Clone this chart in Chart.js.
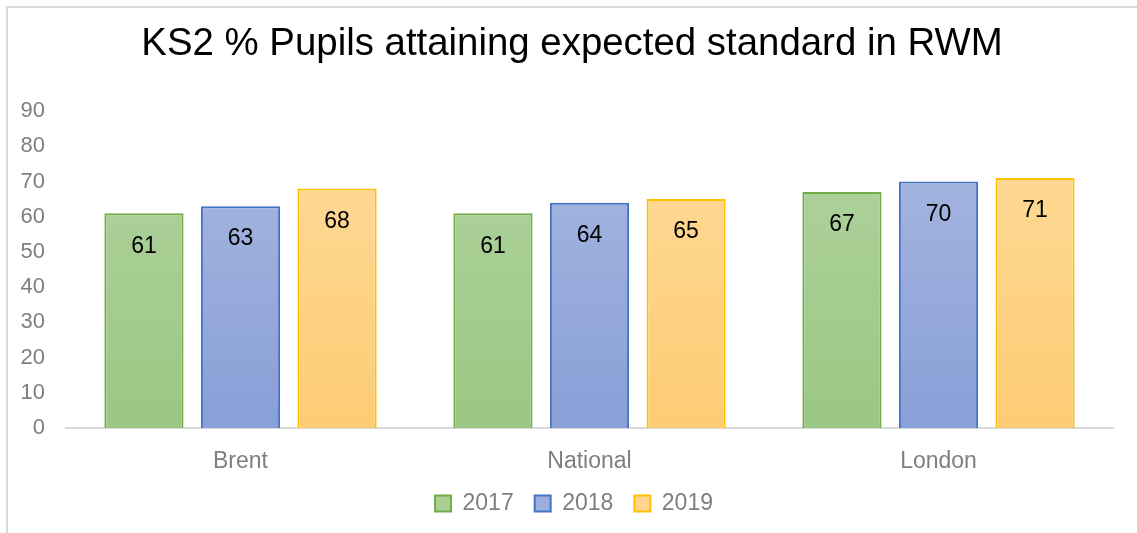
<!DOCTYPE html>
<html>
<head>
<meta charset="utf-8">
<script src="https://cdn.jsdelivr.net/npm/chart.js@4/dist/chart.umd.min.js"></script>
<style>
  html, body { margin: 0; padding: 0; background: #fff; }
  #wrap { position: relative; width: 1137px; height: 533px; }
  #frame { position: absolute; left: 6px; top: 6px; right: 0; bottom: 0; border-left: 2px solid #d9d9d9; border-top: 2px solid #d9d9d9; }
  canvas { position: absolute; left: 0; top: 0; }
</style>
</head>
<body>
<div id="wrap">
  <div id="frame"></div>
  <canvas id="chart" width="1137" height="533"></canvas>
</div>
<script>
// KS2 RWM chart data
const categories = ['Brent', 'National', 'London'];
const years = ['2017', '2018', '2019'];
const values2017 = [61, 61, 67];
const values2018 = [63, 64, 70];
const values2019 = [68, 65, 71];
const yTicks = [0, 10, 20, 30, 40, 50, 60, 70, 80, 90];

const FONT = '"Liberation Sans", Arial, sans-serif';

const seriesStyle = [
    { top: '#b2d3a1', bottom: '#9ac783', border: '#70ad47', legend: '#a9cf95' },
    { top: '#aab9e1', bottom: '#889fd7', border: '#4472c4', legend: '#9caedd' },
    { top: '#fedb9c', bottom: '#fdcc74', border: '#ffc000', legend: '#fed58b' }
];

function gradientFor(i) {
    return function(ctx) {
        const chart = ctx.chart;
        const area = chart.chartArea;
        if (!area) return seriesStyle[i].legend;
        const g = chart.ctx.createLinearGradient(0, area.top, 0, area.bottom);
        g.addColorStop(0, seriesStyle[i].top);
        g.addColorStop(1, seriesStyle[i].bottom);
        return g;
    };
}

// value labels inside the top of each bar
const barLabels = {
    id: 'barLabels',
    afterDatasetsDraw(chart) {
        const ctx = chart.ctx;
        ctx.save();
        ctx.font = '23px ' + FONT;
        ctx.fillStyle = '#000';
        ctx.textAlign = 'center';
        ctx.textBaseline = 'middle';
        chart.data.datasets.forEach((ds, di) => {
            chart.getDatasetMeta(di).data.forEach((bar, i) => {
                ctx.fillText(String(ds.data[i]), bar.x, bar.y + 33);
            });
        });
        ctx.restore();
    }
};

// title and legend sit a little right of the canvas centre, as in the original
const shiftBlocks = {
    id: 'shiftBlocks',
    afterLayout(chart) {
        if (chart.titleBlock) { chart.titleBlock.left += 15; chart.titleBlock.right += 15; }
        if (chart.legend) { chart.legend.left += 17; chart.legend.right += 17; }
    }
};

const allValues = [values2017, values2018, values2019];

new Chart(document.getElementById('chart'), {
    type: 'bar',
    data: {
        labels: categories,
        datasets: years.map((y, i) => ({
            label: y,
            data: allValues[i],
            backgroundColor: gradientFor(i),
            borderColor: seriesStyle[i].border,
            borderWidth: 2,
            borderSkipped: 'bottom',
            categoryPercentage: 0.83,
            barPercentage: 0.82
        }))
    },
    options: {
        responsive: false,
        animation: false,
        layout: { padding: { left: 1, right: 24, top: 6, bottom: 8 } },
        scales: {
            x: {
                grid: { display: false, drawTicks: false },
                border: { color: '#d9d9d9', width: 2 },
                ticks: { color: '#7f7f7f', padding: 20, font: { size: 23, family: FONT } },
                afterFit: axis => { axis.height = 43; }
            },
            y: {
                min: 0, max: 90,
                afterBuildTicks: axis => { axis.ticks = yTicks.map(v => ({ value: v })); },
                grid: { display: false, drawTicks: false },
                border: { display: false },
                ticks: { color: '#7f7f7f', padding: 21, font: { size: 22, family: FONT } },
                afterFit: axis => { axis.width = 65; }
            }
        },
        plugins: {
            title: {
                display: true,
                text: 'KS2 % Pupils attaining expected standard in RWM',
                color: '#000',
                font: { size: 38.4, weight: 'normal', family: FONT },
                padding: { top: 15, bottom: 44 }
            },
            legend: {
                position: 'bottom',
                labels: {
                    color: '#7f7f7f',
                    boxWidth: 16, boxHeight: 16,
                    padding: 21,
                    font: { size: 23, family: FONT },
                    generateLabels: chart => chart.data.datasets.map((ds, i) => ({
                        text: ds.label,
                        fillStyle: seriesStyle[i].legend,
                        strokeStyle: seriesStyle[i].border,
                        lineWidth: 2,
                        fontColor: '#7f7f7f',
                        datasetIndex: i
                    }))
                }
            },
            tooltip: { enabled: false }
        }
    },
    plugins: [barLabels, shiftBlocks]
});
</script>
</body>
</html>
